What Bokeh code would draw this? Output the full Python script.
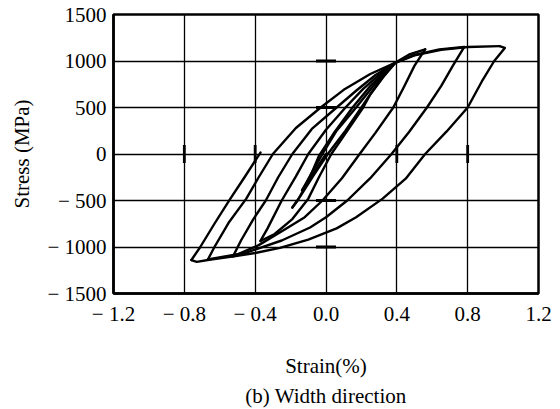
import math
from bokeh.plotting import figure
from bokeh.models import Range1d, FixedTicker, Title
from bokeh.embed import file_html
from bokeh.resources import INLINE

# ---- data (strain in %, stress in MPa) ----
b0_strain = [0.0, -0.07, -0.135]
b0_stress = [0, -200, -390]
b1_strain = [-0.135, -0.08, -0.02, 0.06, 0.17, 0.28, 0.39]
b1_stress = [-390, -200, 0, 250, 500, 760, 980]
b2_strain = [0.39, 0.33, 0.26, 0.2, 0.11, 0.01, -0.07, -0.14, -0.19]
b2_stress = [980, 850, 670, 500, 250, 0, -230, -440, -575]
b3_strain = [-0.19, -0.16, -0.1, -0.04, 0.05, 0.15, 0.25, 0.33, 0.39]
b3_stress = [-575, -500, -290, -20, 240, 500, 730, 880, 980]
b4_strain = [0.39, 0.32, 0.25, 0.21, 0.12, 0.03, -0.04, -0.1, -0.19, -0.29, -0.37]
b4_stress = [980, 820, 640, 500, 250, 0, -250, -480, -700, -860, -935]
b5_strain = [-0.37, -0.33, -0.25, -0.17, -0.1, 0.0, 0.11, 0.21, 0.3, 0.39, 0.47, 0.56]
b5_stress = [-935, -800, -500, -240, 0, 260, 500, 700, 850, 980, 1070, 1125]
b6_strain = [0.56, 0.5, 0.44, 0.38, 0.28, 0.19, 0.09, -0.02, -0.12, -0.24, -0.38, -0.525]
b6_stress = [1125, 950, 720, 500, 230, 0, -260, -500, -680, -820, -980, -1100]
b7_strain = [-0.525, -0.48, -0.41, -0.34, -0.27, -0.19, -0.08, 0.06, 0.17, 0.28, 0.39, 0.5, 0.64, 0.78]
b7_stress = [-1100, -930, -700, -500, -250, 0, 270, 500, 680, 850, 980, 1065, 1125, 1150]
b8_strain = [0.78, 0.72, 0.65, 0.57, 0.47, 0.37, 0.25, 0.12, 0.0, -0.09, -0.25, -0.45, -0.667]
b8_stress = [1150, 960, 730, 500, 240, 0, -260, -500, -680, -790, -930, -1060, -1135]
b9_strain = [-0.667, -0.63, -0.55, -0.45, -0.38, -0.3, -0.17, -0.03, 0.1, 0.25, 0.39, 0.5, 0.65, 0.8, 0.98]
b9_stress = [-1135, -1000, -740, -480, -250, 0, 280, 500, 690, 860, 980, 1060, 1120, 1150, 1160]
b10_strain = [0.98, 1.01, 0.95, 0.88, 0.8, 0.68, 0.56, 0.45, 0.32, 0.17, 0.06, -0.1, -0.26, -0.4, -0.52, -0.65, -0.73, -0.76]
b10_stress = [1160, 1140, 1000, 780, 500, 240, 0, -265, -480, -680, -800, -920, -1010, -1065, -1100, -1135, -1160, -1140]
b11_strain = [-0.76, -0.71, -0.63, -0.54, -0.46, -0.37]
b11_stress = [-1140, -1000, -750, -480, -250, 15]

x_ticks = [-1.2, -0.8, -0.4, 0.0, 0.4, 0.8, 1.2]
x_tick_labels = ["\u2212 1.2", "\u2212 0.8", "\u2212 0.4", "0.0", "0.4", "0.8", "1.2"]
y_ticks = [-1500, -1000, -500, 0, 500, 1000, 1500]
y_tick_labels = ["\u2212 1500", "\u2212 1000", "\u2212 500", "0", "500", "1000", "1500"]
x_marks = [-0.8, -0.4, 0.4, 0.8]        # short marks on the zero-stress line
y_marks = [-1000, -500, 500, 1000]      # short marks on the zero-strain line

FONT = "Liberation Serif"
FS = "21px"

p = figure(width=552, height=409,
           x_range=Range1d(-1.2, 1.2), y_range=Range1d(-1500, 1500),
           output_backend="svg", toolbar_location=None,
           min_border_left=113, min_border_right=14,
           min_border_top=14, min_border_bottom=113,
           x_axis_label="Strain(%)", y_axis_label="Stress (MPa)")

p.background_fill_color = "white"
p.border_fill_color = "white"
p.outline_line_color = "black"
p.outline_line_width = 2.5

for ax in (p.xaxis[0], p.yaxis[0]):
    ax.axis_line_color = "black"
    ax.axis_line_width = 2.5
    ax.major_tick_line_color = None
    ax.minor_tick_line_color = None
    ax.major_tick_out = 0
    ax.major_tick_in = 0
    ax.major_label_text_font = FONT
    ax.major_label_text_font_size = FS
    ax.major_label_text_color = "black"
    ax.axis_label_text_font = FONT
    ax.axis_label_text_font_size = FS
    ax.axis_label_text_font_style = "normal"
    ax.axis_label_text_color = "black"

p.xaxis.ticker = FixedTicker(ticks=x_ticks)
p.yaxis.ticker = FixedTicker(ticks=y_ticks)
p.xaxis.major_label_overrides = {t: s for t, s in zip(x_ticks, x_tick_labels)}
p.yaxis.major_label_overrides = {t: s for t, s in zip(y_ticks, y_tick_labels)}
p.xaxis.major_label_standoff = 8
p.yaxis.major_label_standoff = 7
p.xaxis.axis_label_standoff = 25
p.yaxis.axis_label_standoff = 10

p.xgrid.ticker = FixedTicker(ticks=x_ticks)
p.ygrid.ticker = FixedTicker(ticks=y_ticks)
for g in (p.xgrid[0], p.ygrid[0]):
    g.grid_line_color = "black"
    g.grid_line_width = 1.3
    g.grid_line_alpha = 1.0

# short marks on the centre lines
p.scatter(x=x_marks, y=[0] * len(x_marks), marker="dash", size=18,
          angle=math.pi / 2, line_color="black", line_width=2.8)
p.scatter(x=[0] * len(y_marks), y=y_marks, marker="dash", size=20,
          line_color="black", line_width=2.8)

xs = [b0_strain, b1_strain, b2_strain, b3_strain, b4_strain, b5_strain,
      b6_strain, b7_strain, b8_strain, b9_strain, b10_strain, b11_strain]
ys = [b0_stress, b1_stress, b2_stress, b3_stress, b4_stress, b5_stress,
      b6_stress, b7_stress, b8_stress, b9_stress, b10_stress, b11_stress]
p.multi_line(xs=xs, ys=ys, line_color="black", line_width=2.4,
             line_join="round", line_cap="round")

cap = Title(text="(b) Width direction", align="center",
            text_font=FONT, text_font_size=FS,
            text_font_style="normal", text_color="black", standoff=3)
p.add_layout(cap, "below")

open("out.html", "w").write(file_html(p, INLINE))
